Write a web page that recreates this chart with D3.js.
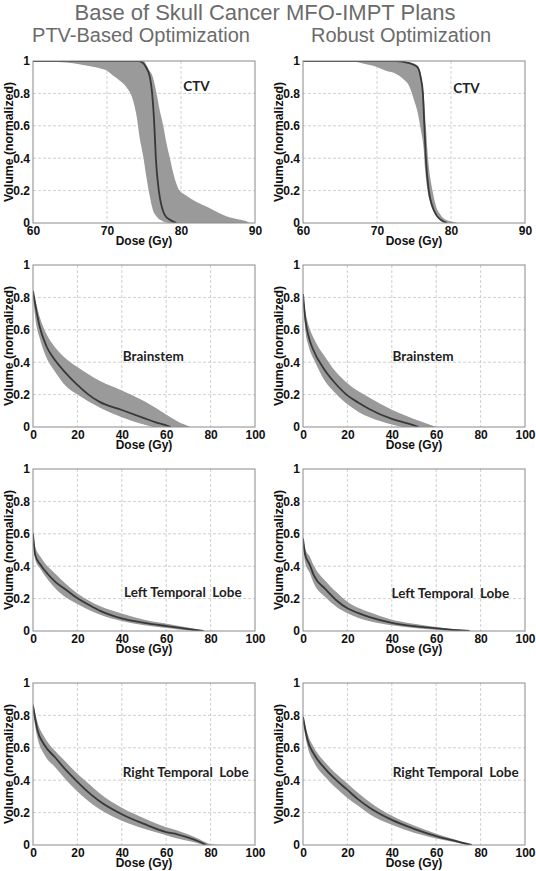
<!DOCTYPE html>
<html><head><meta charset="utf-8">
<script src="https://cdn.jsdelivr.net/npm/d3@7"></script>
<style>
html,body{margin:0;padding:0;background:#fff;}
svg{display:block;}
</style></head>
<body>
<script>
// ---------- DATA ----------
const mainTitle = "Base of Skull Cancer MFO-IMPT Plans";
const columnTitles = ["PTV-Based Optimization", "Robust Optimization"];
const ctvDoseTicks = [60, 70, 80, 90];
const oarDoseTicks = [0, 20, 40, 60, 80, 100];
const volumeTicks = [0, 0.2, 0.4, 0.6, 0.8, 1];
const structureNames = ["CTV", "Brainstem", "Left Temporal  Lobe", "Right Temporal  Lobe"];

// PTV-based, CTV
const ptvCtvNominal = [[60,1],[74.2,1],[74.8,0.99],[75.3,0.96],[75.8,0.9],[76.1,0.8],[76.4,0.6],[76.6,0.4],[77.0,0.2],[77.4,0.1],[77.8,0.05],[78.5,0.02],[79.4,0]];
const ptvCtvLower = [[60,1],[62,0.997],[64.5,0.99],[66.8,0.975],[69,0.955],[70,0.94],[70.8,0.91],[71.7,0.88],[72.6,0.84],[73.5,0.76],[74,0.66],[74.4,0.53],[74.9,0.41],[75.3,0.29],[75.8,0.16],[76.2,0.08],[76.7,0.04],[77.6,0.01],[78.5,0]];
const ptvCtvUpper = [[60,1],[74.9,1],[75.6,0.95],[76.2,0.9],[76.7,0.8],[77.1,0.7],[77.6,0.6],[78.0,0.5],[78.5,0.4],[79.0,0.3],[79.8,0.2],[80.7,0.17],[82.1,0.13],[83.5,0.1],[84.8,0.07],[86.2,0.04],[88,0.02],[88.9,0.01],[89.3,0]];
// Robust, CTV
const robCtvNominal = [[60,1],[72.6,1],[73.5,0.995],[74.8,0.98],[75.5,0.96],[75.9,0.9],[76.2,0.8],[76.4,0.6],[76.6,0.4],[77.0,0.2],[77.5,0.1],[78.0,0.05],[78.6,0.02],[79.5,0]];
const robCtvLower = [[60,1],[66,1],[68.1,0.985],[69.9,0.965],[71.2,0.94],[72.6,0.92],[73.5,0.89],[74.4,0.84],[75.0,0.76],[75.5,0.68],[75.9,0.58],[76.3,0.46],[76.5,0.33],[76.8,0.21],[77.3,0.11],[78,0.05],[78.9,0.015],[79.8,0]];
const robCtvUpper = [[60,1],[72.6,1],[74.5,0.99],[75.5,0.97],[76.0,0.9],[76.3,0.8],[76.6,0.6],[76.9,0.4],[77.5,0.2],[78.0,0.1],[78.6,0.05],[79.3,0.02],[80.5,0.005],[81,0]];
// PTV-based, Brainstem
const ptvBsNominal = [[0,0.84],[1.5,0.72],[3,0.62],[6,0.5],[9,0.43],[15,0.33],[20,0.26],[25,0.2],[30,0.155],[40,0.105],[50,0.055],[55,0.03],[60,0.01],[62,0]];
const ptvBsUpper = [[0,0.84],[1.5,0.76],[3,0.68],[6,0.575],[10,0.49],[15,0.42],[20,0.37],[30,0.285],[40,0.225],[50,0.16],[60,0.077],[65,0.035],[71,0]];
const ptvBsLower = [[0,0.8],[1.5,0.63],[3,0.55],[6,0.43],[10,0.34],[15,0.25],[20,0.2],[30,0.12],[40,0.06],[45,0.035],[50,0.015],[54,0]];
// Robust, Brainstem
const robBsNominal = [[0,0.82],[1.2,0.65],[2.5,0.56],[4.5,0.48],[9.6,0.355],[14.5,0.27],[20,0.195],[25,0.15],[30,0.11],[40,0.05],[45,0.03],[50,0.01],[52,0]];
const robBsUpper = [[0,0.82],[1.2,0.7],[2.5,0.63],[5.5,0.53],[9.6,0.44],[14.5,0.345],[20,0.27],[30,0.18],[40,0.107],[50,0.05],[55,0.025],[60,0]];
const robBsLower = [[0,0.78],[1.2,0.58],[2.5,0.5],[5.5,0.4],[9.6,0.29],[14.5,0.21],[20,0.14],[25,0.093],[30,0.06],[35,0.035],[40,0.015],[44.5,0]];
// PTV-based, Left Temporal Lobe
const ptvLtNominal = [[0,0.6],[1,0.47],[3.3,0.41],[5.2,0.375],[10.3,0.3],[15.3,0.25],[20.2,0.2],[25.3,0.16],[30.3,0.124],[40.3,0.076],[50.2,0.05],[60.3,0.03],[70.3,0.012],[76.8,0]];
const ptvLtUpper = [[0,0.62],[1,0.52],[3.3,0.46],[10.3,0.35],[20.2,0.23],[30.3,0.153],[40.3,0.107],[50.2,0.07],[60.3,0.045],[70.3,0.02],[77.5,0]];
const ptvLtLower = [[0,0.56],[1,0.44],[3.3,0.385],[10.3,0.26],[20.2,0.165],[30.3,0.1],[40.3,0.06],[50.2,0.035],[60.3,0.018],[69,0.004],[72,0]];
// Robust, Left Temporal Lobe
const robLtNominal = [[0,0.57],[1,0.47],[3,0.41],[5,0.34],[10,0.26],[15,0.19],[20,0.14],[25,0.11],[30,0.085],[40,0.05],[50,0.03],[60,0.016],[70,0.005],[75,0]];
const robLtUpper = [[0,0.58],[1,0.51],[3,0.46],[5,0.4],[10,0.31],[15,0.24],[20,0.18],[30,0.115],[40,0.07],[50,0.045],[60,0.025],[70,0.008],[76,0]];
const robLtLower = [[0,0.53],[1,0.42],[3,0.36],[5,0.29],[10,0.21],[15,0.15],[20,0.11],[30,0.06],[40,0.035],[50,0.018],[60,0.008],[68,0]];
// PTV-based, Right Temporal Lobe
const ptvRtNominal = [[0,0.86],[2,0.71],[5,0.62],[10,0.54],[15,0.46],[20,0.39],[25,0.325],[30,0.27],[40,0.19],[50,0.13],[60,0.08],[65,0.066],[70,0.045],[75,0.02],[78,0]];
const ptvRtUpper = [[0,0.88],[2,0.76],[5,0.67],[10,0.58],[15,0.51],[20,0.44],[25,0.38],[30,0.32],[40,0.23],[50,0.165],[60,0.11],[65,0.09],[70,0.065],[75,0.035],[78,0.015],[80,0.005],[85,0]];
const ptvRtLower = [[0,0.82],[2,0.66],[5,0.56],[10,0.48],[15,0.4],[20,0.33],[25,0.27],[30,0.22],[40,0.15],[50,0.1],[60,0.06],[65,0.04],[70,0.025],[75,0.008],[77,0]];
// Robust, Right Temporal Lobe
const robRtNominal = [[0,0.79],[2,0.65],[5,0.56],[10,0.47],[15,0.4],[20,0.34],[25,0.28],[30,0.23],[40,0.155],[50,0.1],[60,0.055],[70,0.02],[76,0]];
const robRtUpper = [[0,0.8],[2,0.69],[5,0.6],[10,0.51],[15,0.44],[20,0.38],[25,0.32],[30,0.265],[40,0.18],[50,0.12],[60,0.07],[70,0.028],[76,0]];
const robRtLower = [[0,0.76],[2,0.61],[5,0.51],[10,0.42],[15,0.35],[20,0.29],[25,0.24],[30,0.19],[40,0.125],[50,0.075],[60,0.04],[70,0.012],[74,0]];

// label anchor (dose, volume) per panel
const labelAnchors = [[80.3,0.815],[80.3,0.805],[40.4,0.409],[40.3,0.406],[41,0.21],[39.9,0.206],[40.4,0.42],[40.4,0.417]];

// ---------- LAYOUT ----------
const W = 536, H = 871;
const colX = [33, 303];
const rowY = [61, 265, 469, 683];
const pw = 222, ph = 162;

const panels = [
  {c:0,r:0,dom:[60,90],ticks:ctvDoseTicks,nom:ptvCtvNominal,lo:ptvCtvLower,up:ptvCtvUpper},
  {c:1,r:0,dom:[60,90],ticks:ctvDoseTicks,nom:robCtvNominal,lo:robCtvLower,up:robCtvUpper},
  {c:0,r:1,dom:[0,100],ticks:oarDoseTicks,nom:ptvBsNominal,lo:ptvBsLower,up:ptvBsUpper},
  {c:1,r:1,dom:[0,100],ticks:oarDoseTicks,nom:robBsNominal,lo:robBsLower,up:robBsUpper},
  {c:0,r:2,dom:[0,100],ticks:oarDoseTicks,nom:ptvLtNominal,lo:ptvLtLower,up:ptvLtUpper},
  {c:1,r:2,dom:[0,100],ticks:oarDoseTicks,nom:robLtNominal,lo:robLtLower,up:robLtUpper},
  {c:0,r:3,dom:[0,100],ticks:oarDoseTicks,nom:ptvRtNominal,lo:ptvRtLower,up:ptvRtUpper},
  {c:1,r:3,dom:[0,100],ticks:oarDoseTicks,nom:robRtNominal,lo:robRtLower,up:robRtUpper}
];

const svg = d3.select("body").append("svg").attr("width", W).attr("height", H);
svg.append("rect").attr("width", W).attr("height", H).attr("fill", "#fff");

svg.append("text").attr("x", 265).attr("y", 19.5).attr("text-anchor", "middle")
  .attr("font-family", "'Liberation Sans', Arial, sans-serif").attr("font-size", 22)
  .attr("fill", "#6b6b6b").text(mainTitle);
[141, 401].forEach((cx, i) => {
  svg.append("text").attr("x", cx).attr("y", 42).attr("text-anchor", "middle")
    .attr("font-family", "'Liberation Sans', Arial, sans-serif").attr("font-size", 20)
    .attr("fill", "#6b6b6b").text(columnTitles[i]);
});

const axisFont = "'Liberation Sans', Arial, sans-serif";

panels.forEach((p, i) => {
  const g = svg.append("g").attr("transform", `translate(${colX[p.c]},${rowY[p.r]})`);
  const x = d3.scaleLinear().domain(p.dom).range([0, pw]);
  const y = d3.scaleLinear().domain([0, 1]).range([ph, 0]);
  const clipId = "clip" + i;
  g.append("clipPath").attr("id", clipId).append("rect").attr("width", pw).attr("height", ph);

  // grid
  g.append("g").selectAll("line").data(p.ticks.slice(1, -1)).join("line")
    .attr("x1", d => x(d)).attr("x2", d => x(d)).attr("y1", 0).attr("y2", ph)
    .attr("stroke", "#c4c4c4").attr("stroke-width", 0.8).attr("stroke-dasharray", "3,2");
  g.append("g").selectAll("line").data(volumeTicks.slice(1, -1)).join("line")
    .attr("y1", d => y(d)).attr("y2", d => y(d)).attr("x1", 0).attr("x2", pw)
    .attr("stroke", "#c4c4c4").attr("stroke-width", 0.8).attr("stroke-dasharray", "3,2");

  // band
  const line = d3.line().x(d => x(d[0])).y(d => y(d[1])).curve(d3.curveMonotoneX);
  const upPath = line(p.up);
  const loPath = line(p.lo.slice().reverse()).replace(/^M/, "L");
  const plotG = g.append("g").attr("clip-path", `url(#${clipId})`);
  plotG.append("path").attr("d", upPath + loPath + "Z").attr("fill", "#9a9a9a").attr("stroke", "none");
  plotG.append("path").attr("d", line(p.nom)).attr("fill", "none").attr("stroke", "#383838").attr("stroke-width", 1.8);

  // frame
  g.append("rect").attr("width", pw).attr("height", ph).attr("fill", "none")
    .attr("stroke", "#8a8a8a").attr("stroke-width", 1);

  // axes
  const xAxis = d3.axisBottom(x).tickValues(p.ticks).tickSize(0).tickPadding(3).tickFormat(d3.format("d"));
  const ax = g.append("g").attr("transform", `translate(0,${ph})`).call(xAxis);
  ax.select(".domain").remove();
  ax.selectAll("text").attr("font-family", axisFont).attr("font-weight", "bold")
    .attr("font-size", 12).attr("fill", "#111");
  const yAxis = d3.axisLeft(y).tickValues(volumeTicks).tickSize(0).tickPadding(3).tickFormat(d => d3.format("")(d));
  const ay = g.append("g").call(yAxis);
  ay.select(".domain").remove();
  ay.selectAll("text").attr("font-family", axisFont).attr("font-weight", "bold")
    .attr("font-size", 12).attr("fill", "#111");

  // axis titles
  g.append("text").attr("x", pw / 2).attr("y", ph + 21.5).attr("text-anchor", "middle")
    .attr("font-family", axisFont).attr("font-weight", "bold").attr("font-size", 12)
    .attr("fill", "#111").text("Dose (Gy)");
  g.append("text").attr("transform", `translate(-20,${ph / 2}) rotate(-90)`).attr("text-anchor", "middle")
    .attr("font-family", axisFont).attr("font-weight", "bold").attr("font-size", 12.3)
    .attr("fill", "#111").text("Volume (normalized)");

  // structure label
  const la = labelAnchors[i];
  g.append("text").attr("x", x(la[0])).attr("y", y(la[1]))
    .attr("font-family", "Lato, 'Open Sans', sans-serif").attr("font-weight", "bold").attr("font-size", 13.5)
    .attr("fill", "#222").attr("xml:space", "preserve").style("white-space", "pre")
    .text(structureNames[Math.floor(i / 2)]);
});
</script>
</body></html>
